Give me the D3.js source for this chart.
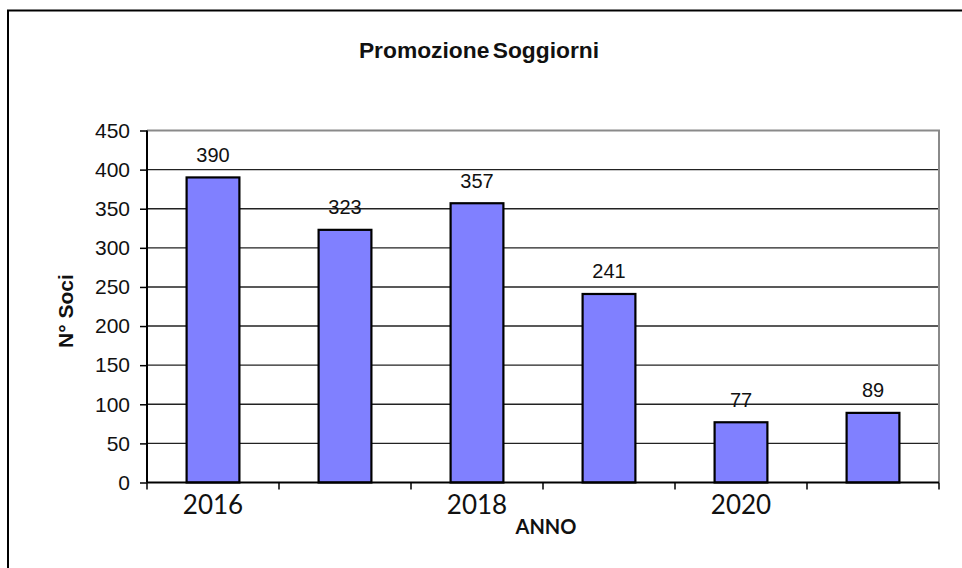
<!DOCTYPE html>
<html>
<head>
<meta charset="utf-8">
<script src="https://cdn.jsdelivr.net/npm/d3@7"></script>
<style>
  html, body { margin: 0; padding: 0; background: #fff; }
  svg { display: block; }
</style>
</head>
<body>
<svg id="chart" width="962" height="568"></svg>
<script>
const title = "Promozione Soggiorni";
const years = ["2016", "2017", "2018", "2019", "2020", "2021"];
const shownYearLabels = ["2016", "2018", "2020"];
const soci = [390, 323, 357, 241, 77, 89];
const yTicks = [0, 50, 100, 150, 200, 250, 300, 350, 400, 450];
const xTitle = "ANNO";
const yTitle = "N° Soci";

const svg = d3.select("#chart");
const plot = { left: 147, right: 939, top: 130.5, bottom: 482.5 };

// outer frame (right/bottom edges lie outside the picture)
svg.append("rect")
  .attr("x", 8).attr("y", 10.5)
  .attr("width", 1000).attr("height", 600)
  .attr("fill", "none").attr("stroke", "#000").attr("stroke-width", 2);

const x = d3.scaleBand().domain(years)
  .range([plot.left, plot.right])
  .paddingInner(0.6).paddingOuter(0.3);
const y = d3.scaleLinear().domain([0, 450]).range([plot.bottom, plot.top]);

// gridlines
svg.append("g").selectAll("line")
  .data(yTicks.filter(t => t > 0 && t < 450))
  .join("line")
  .attr("x1", plot.left).attr("x2", plot.right)
  .attr("y1", d => y(d)).attr("y2", d => y(d))
  .attr("stroke", "#222").attr("stroke-width", 1.4);

// plot border top and right (gray)
svg.append("path")
  .attr("d", `M${plot.left},${y(450)}H${plot.right}V${plot.bottom}`)
  .attr("fill", "none").attr("stroke", "#8a8a8a").attr("stroke-width", 2);

// bars
const barData = years.map((yr, i) => ({ yr, v: soci[i] }));
svg.append("g").selectAll("rect")
  .data(barData)
  .join("rect")
  .attr("x", d => x(d.yr))
  .attr("y", d => y(d.v))
  .attr("width", x.bandwidth())
  .attr("height", d => y(0) - y(d.v))
  .attr("fill", "#8080FF")
  .attr("stroke", "#000").attr("stroke-width", 2.2);

// value labels
svg.append("g").selectAll("text")
  .data(barData)
  .join("text")
  .attr("x", d => x(d.yr) + x.bandwidth() / 2)
  .attr("y", d => y(d.v) - 15.5)
  .attr("text-anchor", "middle")
  .attr("font-family", "Liberation Sans, Arial, sans-serif")
  .attr("font-size", 20)
  .attr("fill", "#111")
  .text(d => d.v);

// y axis
const yAxis = d3.axisLeft(y).tickValues(yTicks).tickSize(7).tickPadding(10);
const gy = svg.append("g").attr("transform", `translate(${plot.left},0)`).call(yAxis);
gy.select(".domain").attr("stroke", "#000").attr("stroke-width", 2)
  .attr("d", `M0,${y(450)}V${plot.bottom}`);
gy.selectAll(".tick line").attr("stroke", "#000").attr("stroke-width", 1.5);
gy.selectAll(".tick text")
  .attr("font-family", "Liberation Sans, Arial, sans-serif")
  .attr("font-size", 21).attr("fill", "#111");

// x axis
const boundaryXs = d3.range(years.length + 1).map(i => plot.left + i * x.step());
svg.append("line")
  .attr("x1", plot.left).attr("x2", plot.right)
  .attr("y1", plot.bottom).attr("y2", plot.bottom)
  .attr("stroke", "#000").attr("stroke-width", 2);
svg.append("g").selectAll("line")
  .data(boundaryXs)
  .join("line")
  .attr("x1", d => d).attr("x2", d => d)
  .attr("y1", plot.bottom).attr("y2", plot.bottom + 7)
  .attr("stroke", "#000").attr("stroke-width", 1.5);
svg.append("g").selectAll("text")
  .data(shownYearLabels)
  .join("text")
  .attr("x", d => x(d) + x.bandwidth() / 2)
  .attr("y", 514)
  .attr("text-anchor", "middle")
  .attr("font-family", "Lato, Carlito, Calibri, sans-serif")
  .attr("font-size", 26)
  .attr("fill", "#111")
  .text(d => d);

// axis titles
svg.append("text")
  .attr("x", 546).attr("y", 534)
  .attr("text-anchor", "middle")
  .attr("font-family", "Lato, Carlito, Calibri, sans-serif")
  .attr("font-weight", "bold")
  .attr("font-size", 20)
  .attr("fill", "#111")
  .text(xTitle);

svg.append("text")
  .attr("transform", "translate(72.5,311) rotate(-90)")
  .attr("text-anchor", "middle")
  .attr("font-family", "Liberation Sans, Arial, sans-serif")
  .attr("font-weight", "bold")
  .attr("font-size", 21)
  .attr("fill", "#111")
  .text(yTitle);

// title
svg.append("text")
  .attr("x", 479).attr("y", 58)
  .attr("text-anchor", "middle")
  .attr("font-family", "Liberation Sans, Arial, sans-serif")
  .attr("font-weight", "bold")
  .attr("font-size", 22.8)
  .attr("word-spacing", -3)
  .attr("fill", "#111")
  .text(title);
</script>
</body>
</html>
